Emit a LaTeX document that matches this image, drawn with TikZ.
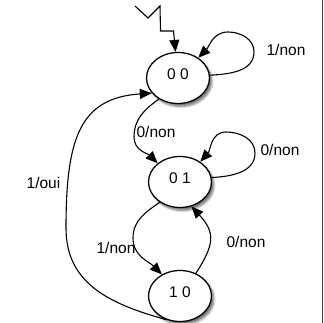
\documentclass[tikz,border=0pt]{standalone}
\usepackage{fontspec}
\setmainfont{Liberation Sans}
\usetikzlibrary{shapes.geometric,arrows.meta,shadows.blur}
\begin{document}
\begin{tikzpicture}[x=1pt,y=1pt,
  state/.style={ellipse,draw,line width=1.25pt,fill=white,
    minimum width=63pt,minimum height=51pt,inner sep=0pt,text depth=7pt,
    blur shadow={shadow xshift=2.5pt,shadow yshift=-3pt,shadow blur steps=6,shadow opacity=55}},
  trans/.style={line width=1.1pt,-{Triangle[length=12pt,width=10pt]}},
  lbl/.style={inner sep=0pt},
  font=\fontsize{15.5}{18}\selectfont]
  \useasboundingbox (0,0) rectangle (324,323);

  % states
  \node[state] (s00) at (178,245) {0 0};
  \node[state] (s01) at (180,141) {0 1};
  \node[state] (s10) at (180,27)  {1 0};

  % initial arrow
  \coordinate (init) at (135,317);
  \draw[trans] (init) -- (148,305) -- (160,317) -- (160.5,292) -- (173.5,292) -- (s00);

  % 00 -> 00
  \draw[trans] (s00.5) to[out=3,in=-90] (254,271) to[out=90,in=0] (228,291)
    to[out=180,in=45] (s00.45);
  \node[lbl] (l1) at (286,273) {1/non};

  % 00 -> 01
  \draw[trans] (s00.228) to[out=215,in=90] (134,186) to[out=-90,in=135] (s01.140);
  \node[lbl] (l2) at (156,191) {0/non};

  % 01 -> 01
  \draw[trans] (s01.8) to[out=3,in=-90] (255,170) to[out=90,in=0] (226,191)
    to[out=180,in=48] (s01.45);
  \node[lbl] (l3) at (280,173) {0/non};

  % 01 -> 10
  \draw[trans] (s01.225) to[out=215,in=90] (133,85) to[out=-90,in=135] (s10.130);
  \node[lbl] (l4) at (116,75) {1/non};

  % 10 -> 01
  \draw[trans] (s10.55) .. controls (214,78) and (216,90) .. (s01.-65);
  \node[lbl] (l5) at (246,81) {0/non};

  % 10 -> 00
  \draw[trans] (s10.240) .. controls (105,20) and (66,42) .. (66,95)
    .. controls (66,185) and (80,225) .. (s00.210);
  \node[lbl] (l6) at (43.5,140) {1/oui};

  % frame edge on the right
  \draw[line width=1pt,black!75] (322.5,0) -- (322.5,323);
\end{tikzpicture}
\end{document}
